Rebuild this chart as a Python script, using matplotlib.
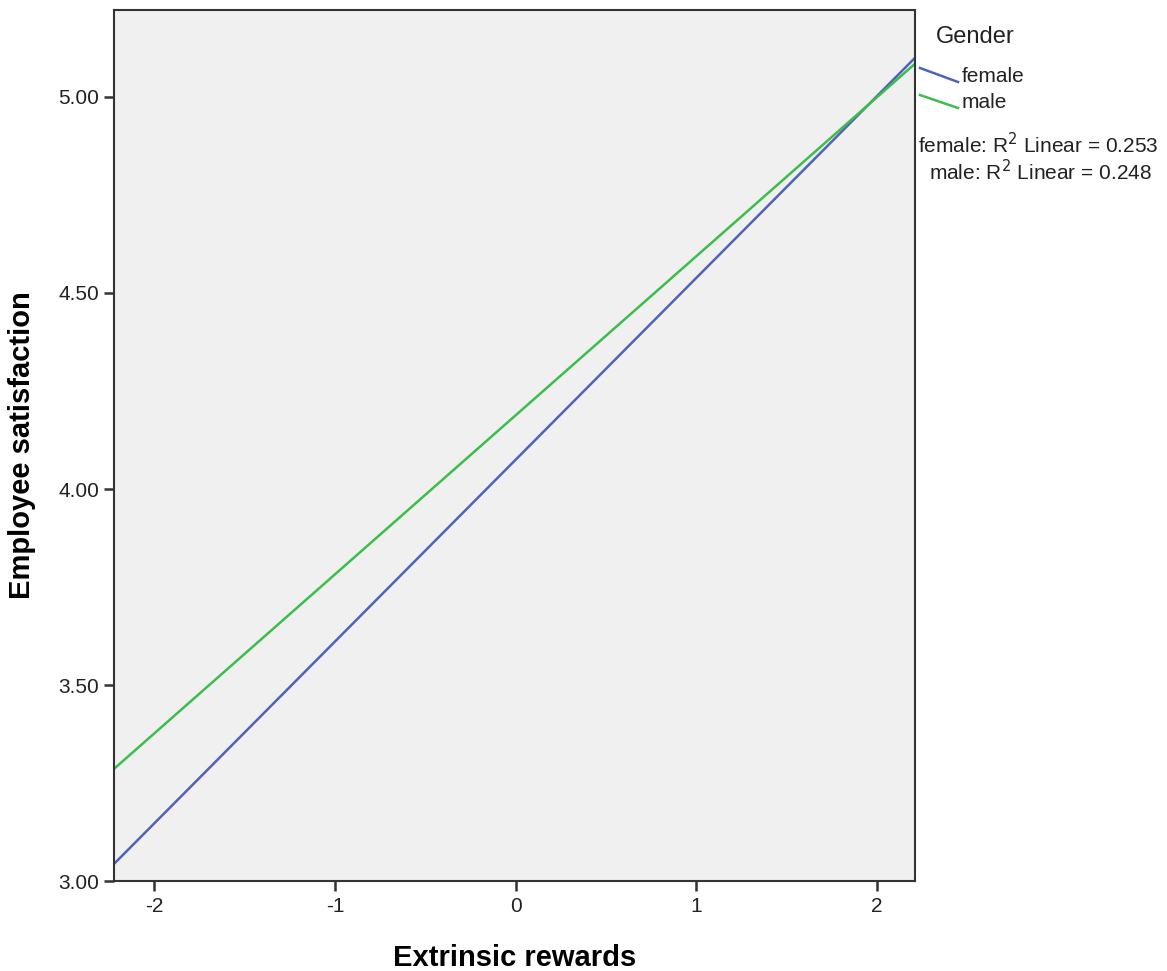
import numpy as np
import matplotlib
matplotlib.use("Agg")
import matplotlib.pyplot as plt
from matplotlib.lines import Line2D

plt.rcParams['font.family'] = ['Liberation Sans', 'DejaVu Sans']

# fit line end points (x range of the axis, fitted y at each end)
x_ends = [-2.22, 2.21]
female_fit = [3.046, 5.099]
male_fit = [3.288, 5.084]
groups = ["female", "male"]
r2 = [0.253, 0.248]
colors = ["#4f63b8", "#3dbd4b"]

xticks = [-2, -1, 0, 1, 2]
yticks = [3.0, 3.5, 4.0, 4.5, 5.0]

fig = plt.figure(figsize=(11.67, 9.71), dpi=100)
ax = fig.add_axes([0.0981, 0.0922, 0.686, 0.898])
ax.set_facecolor("#f0f0f0")

ax.plot(x_ends, female_fit, color=colors[0], lw=1.8)
ax.plot(x_ends, male_fit, color=colors[1], lw=1.8)

ax.set_xlim(-2.22, 2.21)
ax.set_ylim(3.0, 5.222)
ax.set_xticks(xticks)
ax.set_xticklabels([str(t) for t in xticks])
ax.set_yticks(yticks)
ax.set_yticklabels(["%.2f" % t for t in yticks])
ax.tick_params(axis='both', direction='out', length=7, width=1.8,
               color="#333333", labelsize=15, labelcolor="#222222", pad=4)
for s in ax.spines.values():
    s.set_linewidth(1.5)
    s.set_color("#333333")

ax.set_xlabel("Extrinsic rewards", fontsize=21, fontweight='bold', labelpad=20)
ax.set_ylabel("Employee satisfaction", fontsize=21, fontweight='bold', labelpad=16)

# legend drawn by hand, like the SPSS layout
fig.text(975 / 1167, 1 - 37 / 971, "Gender", fontsize=17, ha='center', va='center', color="#222222")
leg_y = [(68, 82), (95, 108)]
for i, g in enumerate(groups):
    y0, y1 = leg_y[i]
    fig.add_artist(Line2D([920 / 1167, 958 / 1167], [1 - y0 / 971, 1 - y1 / 971],
                          color=colors[i], lw=1.8, transform=fig.transFigure))
    fig.text(962 / 1167, 1 - (y1 - 6) / 971, g, fontsize=15, ha='left', va='center', color="#222222")

fig.text(1038 / 1167, 1 - 145 / 971, "female: R$^2$ Linear = %.3f" % r2[0],
         fontsize=15, ha='center', va='center', color="#222222")
fig.text(1040 / 1167, 1 - 172 / 971, "male: R$^2$ Linear = %.3f" % r2[1],
         fontsize=15, ha='center', va='center', color="#222222")

fig.savefig("out.png", dpi=100)
